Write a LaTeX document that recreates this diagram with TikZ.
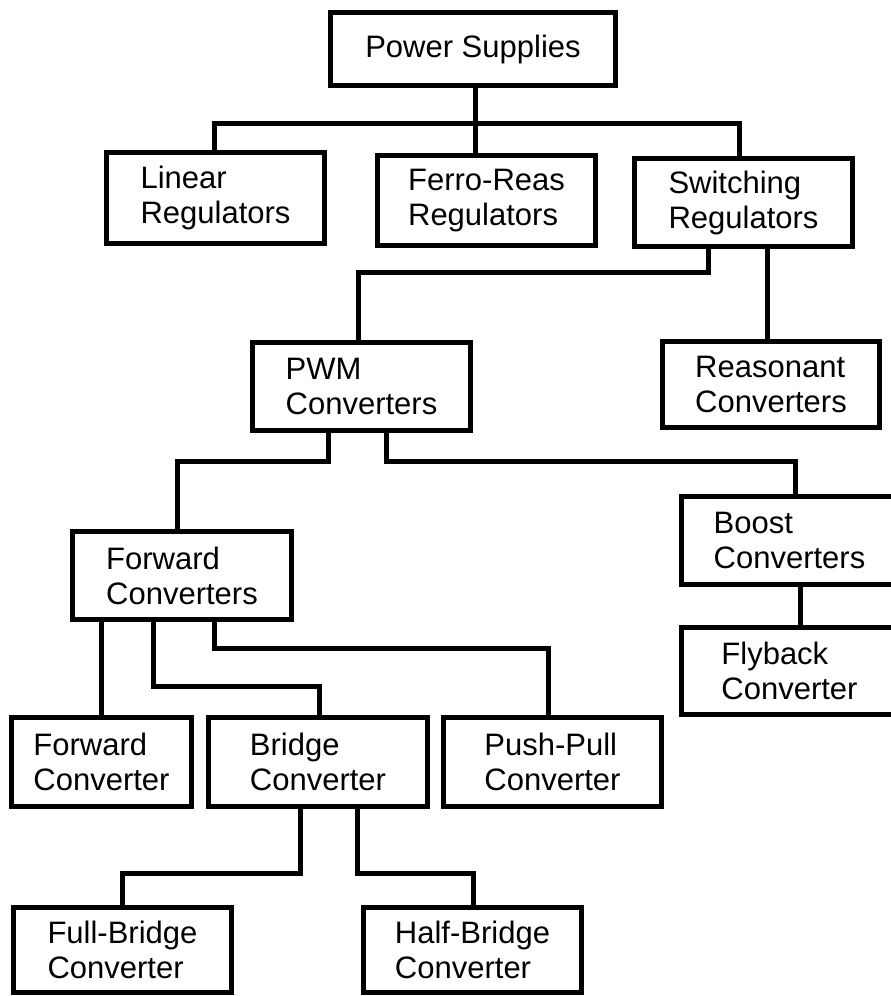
\documentclass[tikz,border=0pt]{standalone}
\usepackage{fontspec}
\setmainfont{Liberation Sans}
\begin{document}
\begin{tikzpicture}[x=1pt,y=-1pt,
  box/.style={draw, line width=5pt, inner sep=0pt, align=left, font=\fontsize{31}{35}\selectfont},
  wire/.style={line width=5pt, line join=miter}]
\useasboundingbox (0,0) rectangle (891,996);
\fill[white] (0,0) rectangle (891,996);
% boxes
\node[box, minimum width=285pt, minimum height=73pt] (ps) at (473,49) {Power Supplies};
\node[box, minimum width=218pt, minimum height=91pt] (lin) at (215.5,198) {Linear\\Regulators};
\node[box, minimum width=218pt, minimum height=90pt] (fer) at (486.5,200.5) {Ferro-Reas\\Regulators};
\node[box, minimum width=218pt, minimum height=88pt] (sw) at (743.5,202.5) {Switching\\Regulators};
\node[box, minimum width=218pt, minimum height=88pt] (pwm) at (361.5,386.5) {PWM\\Converters};
\node[box, minimum width=217pt, minimum height=86pt] (res) at (771,384.5) {Reasonant\\Converters};
\node[box, minimum width=219pt, minimum height=88pt] (fc) at (182,575.5) {Forward\\Converters};
\node[box, minimum width=216pt, minimum height=88pt] (bst) at (789.5,540.5) {Boost\\Converters};
\node[box, minimum width=216pt, minimum height=87pt] (fly) at (789.5,671) {Flyback\\Converter};
\node[box, minimum width=180pt, minimum height=89pt] (fwd) at (101.5,762) {Forward\\Converter};
\node[box, minimum width=219pt, minimum height=89pt] (brg) at (318,762) {Bridge\\Converter};
\node[box, minimum width=218pt, minimum height=89pt] (pp) at (552.5,762) {Push-Pull\\Converter};
\node[box, minimum width=218pt, minimum height=85pt] (fb) at (122.5,950) {Full-Bridge\\Converter};
\node[box, minimum width=218pt, minimum height=85pt] (hb) at (472.5,950) {Half-Bridge\\Converter};
% junction coordinates
\coordinate (t0) at (475,123);
\coordinate (tL) at (214,123);
\coordinate (tR) at (739,123);
\coordinate (s1) at (708,272);
\coordinate (s2) at (358,272);
\coordinate (s3) at (767,300);
\coordinate (p1) at (328,461);
\coordinate (p2) at (177,461);
\coordinate (p3) at (386,461);
\coordinate (p4) at (795,461);
\coordinate (b1) at (800,600);
\coordinate (f1) at (101,680);
\coordinate (f2) at (153,686);
\coordinate (f3) at (319,686);
\coordinate (f4) at (214,648);
\coordinate (f5) at (548,648);
\coordinate (g1) at (300,873);
\coordinate (g2) at (122,873);
\coordinate (g3) at (357,873);
\coordinate (g4) at (473,873);
% connectors
\draw[wire] (ps.south -| t0) -- (fer.north -| t0);
\draw[wire] (lin.north -| tL) -- (tL) -- (tR) -- (sw.north -| tR);
\draw[wire] (sw.south -| s1) -- (s1) -- (s2) -- (pwm.north -| s2);
\draw[wire] (sw.south -| s3) -- (res.north -| s3);
\draw[wire] (pwm.south -| p1) -- (p1) -- (p2) -- (fc.north -| p2);
\draw[wire] (pwm.south -| p3) -- (p3) -- (p4) -- (bst.north -| p4);
\draw[wire] (bst.south -| b1) -- (fly.north -| b1);
\draw[wire] (fc.south -| f1) -- (fwd.north -| f1);
\draw[wire] (fc.south -| f2) -- (f2) -- (f3) -- (brg.north -| f3);
\draw[wire] (fc.south -| f4) -- (f4) -- (f5) -- (pp.north -| f5);
\draw[wire] (brg.south -| g1) -- (g1) -- (g2) -- (fb.north -| g2);
\draw[wire] (brg.south -| g3) -- (g3) -- (g4) -- (hb.north -| g4);
\end{tikzpicture}
\end{document}
